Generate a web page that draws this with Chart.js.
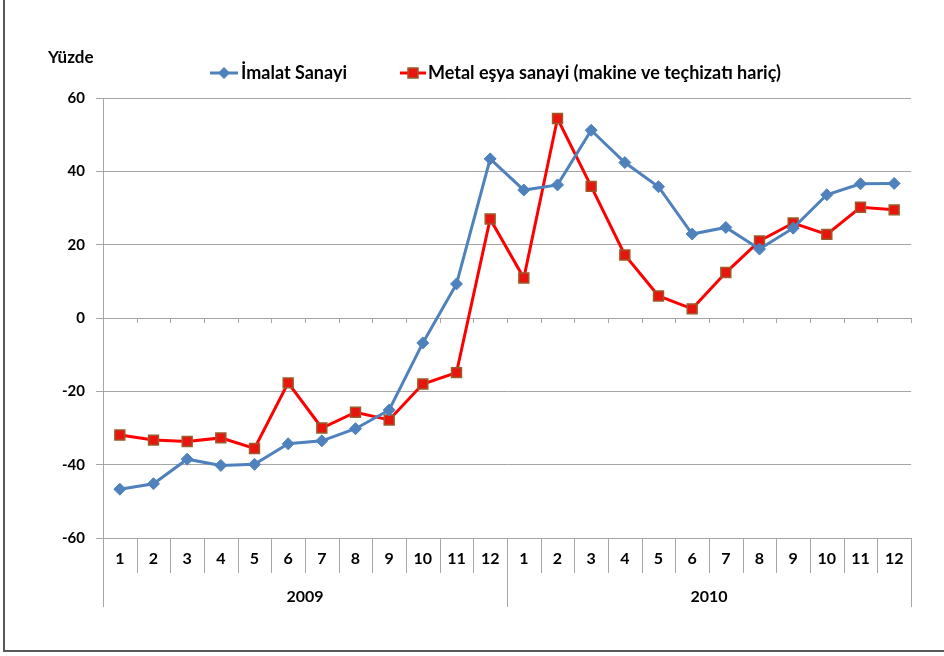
<!DOCTYPE html>
<html>
<head>
<meta charset="utf-8">
<script src="https://cdn.jsdelivr.net/npm/chart.js@4.4.1/dist/chart.umd.min.js"></script>
<style>
  body { margin: 0; background: #fff; }
  #wrap { position: relative; width: 944px; height: 656px; }
  #frame { position: absolute; left: 3px; top: -4px; width: 960px; height: 654px;
           border-left: 2px solid #595959; border-bottom: 2px solid #595959; }
  canvas { position: absolute; left: 0; top: 0; }
</style>
</head>
<body>
<div id="wrap">
  <div id="frame"></div>
  <canvas id="chart" width="944" height="656"></canvas>
</div>
<script>
// data
var months = ['1','2','3','4','5','6','7','8','9','10','11','12','1','2','3','4','5','6','7','8','9','10','11','12'];
var years = ['2009', '2010'];
var imalat = [-46.7, -45.2, -38.5, -40.2, -39.9, -34.3, -33.5, -30.2, -25.1, -6.8, 9.3, 43.4,
              34.9, 36.3, 51.2, 42.4, 35.8, 22.9, 24.7, 18.8, 24.5, 33.6, 36.6, 36.7];
var metal = [-31.9, -33.3, -33.7, -32.7, -35.6, -17.7, -30.0, -25.7, -27.8, -18.0, -14.9, 27.0,
             10.9, 54.4, 35.9, 17.2, 6.0, 2.5, 12.4, 21.0, 25.9, 22.8, 30.2, 29.5];
var yTicks = [-60, -40, -20, 0, 20, 40, 60];

var gridCol = '#a6a6a6';
var fnt = 'Lato, "Open Sans", sans-serif';

// two-level category axis, legend and "Yüzde" label
var extras = {
  id: 'extras',
  afterDraw: function (chart) {
    var c = chart.ctx, a = chart.chartArea, xs = chart.scales.x, ys = chart.scales.y;
    var n = months.length;
    var bound = function (i) {
      if (i === 0) return a.left;
      if (i === n) return a.right;
      return (xs.getPixelForValue(i - 1) + xs.getPixelForValue(i)) / 2;
    };
    var y0 = ys.getPixelForValue(0);
    c.save();
    c.strokeStyle = gridCol;
    c.lineWidth = 1;
    c.beginPath();
    // axis line continues through the label rows
    c.moveTo(Math.round(a.left) + 0.5, a.bottom);
    c.lineTo(Math.round(a.left) + 0.5, a.bottom + 69);
    for (var i = 1; i <= n; i++) {
      var bx = Math.round(bound(i)) + 0.5;
      // small ticks on the zero line
      c.moveTo(bx, y0);
      c.lineTo(bx, y0 + 5);
      var len = (i === 12 || i === n) ? 69 : 35;
      c.moveTo(bx, a.bottom);
      c.lineTo(bx, a.bottom + len);
    }
    c.stroke();

    c.fillStyle = '#000';
    c.textAlign = 'center';
    c.textBaseline = 'middle';
    c.font = 'bold 16px ' + fnt;
    for (var j = 0; j < n; j++) {
      c.fillText(months[j], xs.getPixelForValue(j), a.bottom + 21);
    }
    for (var k = 0; k < years.length; k++) {
      var cx = (bound(k * 12) + bound(k * 12 + 12)) / 2;
      c.fillText(years[k], cx, a.bottom + 59);
    }

    // Yüzde
    c.textAlign = 'left';
    c.font = 'bold 17px ' + fnt;
    c.fillText('Yüzde', 48, 58);

    // legend
    var ly = 73;
    c.lineWidth = 3;
    c.strokeStyle = '#4f81bd';
    c.beginPath(); c.moveTo(210, ly); c.lineTo(238, ly); c.stroke();
    c.fillStyle = '#4f81bd';
    c.beginPath();
    c.moveTo(224, ly - 6); c.lineTo(230, ly); c.lineTo(224, ly + 6); c.lineTo(218, ly);
    c.closePath(); c.fill();
    c.strokeStyle = '#ff0000';
    c.beginPath(); c.moveTo(400, ly); c.lineTo(426, ly); c.stroke();
    c.fillStyle = '#e8140e';
    c.fillRect(408, ly - 5, 10, 10);
    c.lineWidth = 1.5;
    c.strokeStyle = '#9b5b2a';
    c.strokeRect(408, ly - 5, 10, 10);
    c.fillStyle = '#000';
    c.font = 'bold 18px ' + fnt;
    c.fillText('İmalat Sanayi', 241, ly);
    c.fillText('Metal eşya sanayi (makine ve teçhizatı hariç)', 428, ly);
    c.restore();
  }
};

var ctx = document.getElementById('chart');
var chart = new Chart(ctx, {
  type: 'line',
  data: {
    labels: months.map(function (m, i) { return i + ':' + m; }),
    datasets: [{
      label: 'İmalat Sanayi',
      data: imalat,
      borderColor: '#4f81bd',
      borderWidth: 3,
      pointStyle: 'rectRot',
      pointRadius: 6,
      pointBackgroundColor: '#4f81bd',
      pointBorderColor: '#4f81bd',
      pointBorderWidth: 1,
      tension: 0
    }, {
      label: 'Metal eşya sanayi (makine ve teçhizatı hariç)',
      data: metal,
      borderColor: '#ff0000',
      borderWidth: 3,
      pointStyle: 'rect',
      pointRadius: 7,
      pointBackgroundColor: '#e8140e',
      pointBorderColor: '#9b5b2a',
      pointBorderWidth: 1.5,
      tension: 0
    }]
  },
  options: {
    responsive: false,
    animation: false,
    layout: { padding: { left: 0, right: 33, top: 98, bottom: 118 } },
    plugins: { legend: { display: false }, tooltip: { enabled: false } },
    scales: {
      x: { type: 'category', offset: true, display: false },
      y: {
        min: -60, max: 60,
        afterBuildTicks: function (s) { s.ticks = yTicks.map(function (v) { return { value: v }; }); },
        afterFit: function (s) { s.width = 103; },
        grid: { color: gridCol, lineWidth: 1, tickLength: 7, tickColor: gridCol },
        border: { color: gridCol, width: 1 },
        ticks: {
          color: '#000', padding: 11,
          font: { family: fnt, weight: 'bold', size: 15 }
        }
      }
    }
  },
  plugins: [extras]
});
</script>
</body>
</html>
